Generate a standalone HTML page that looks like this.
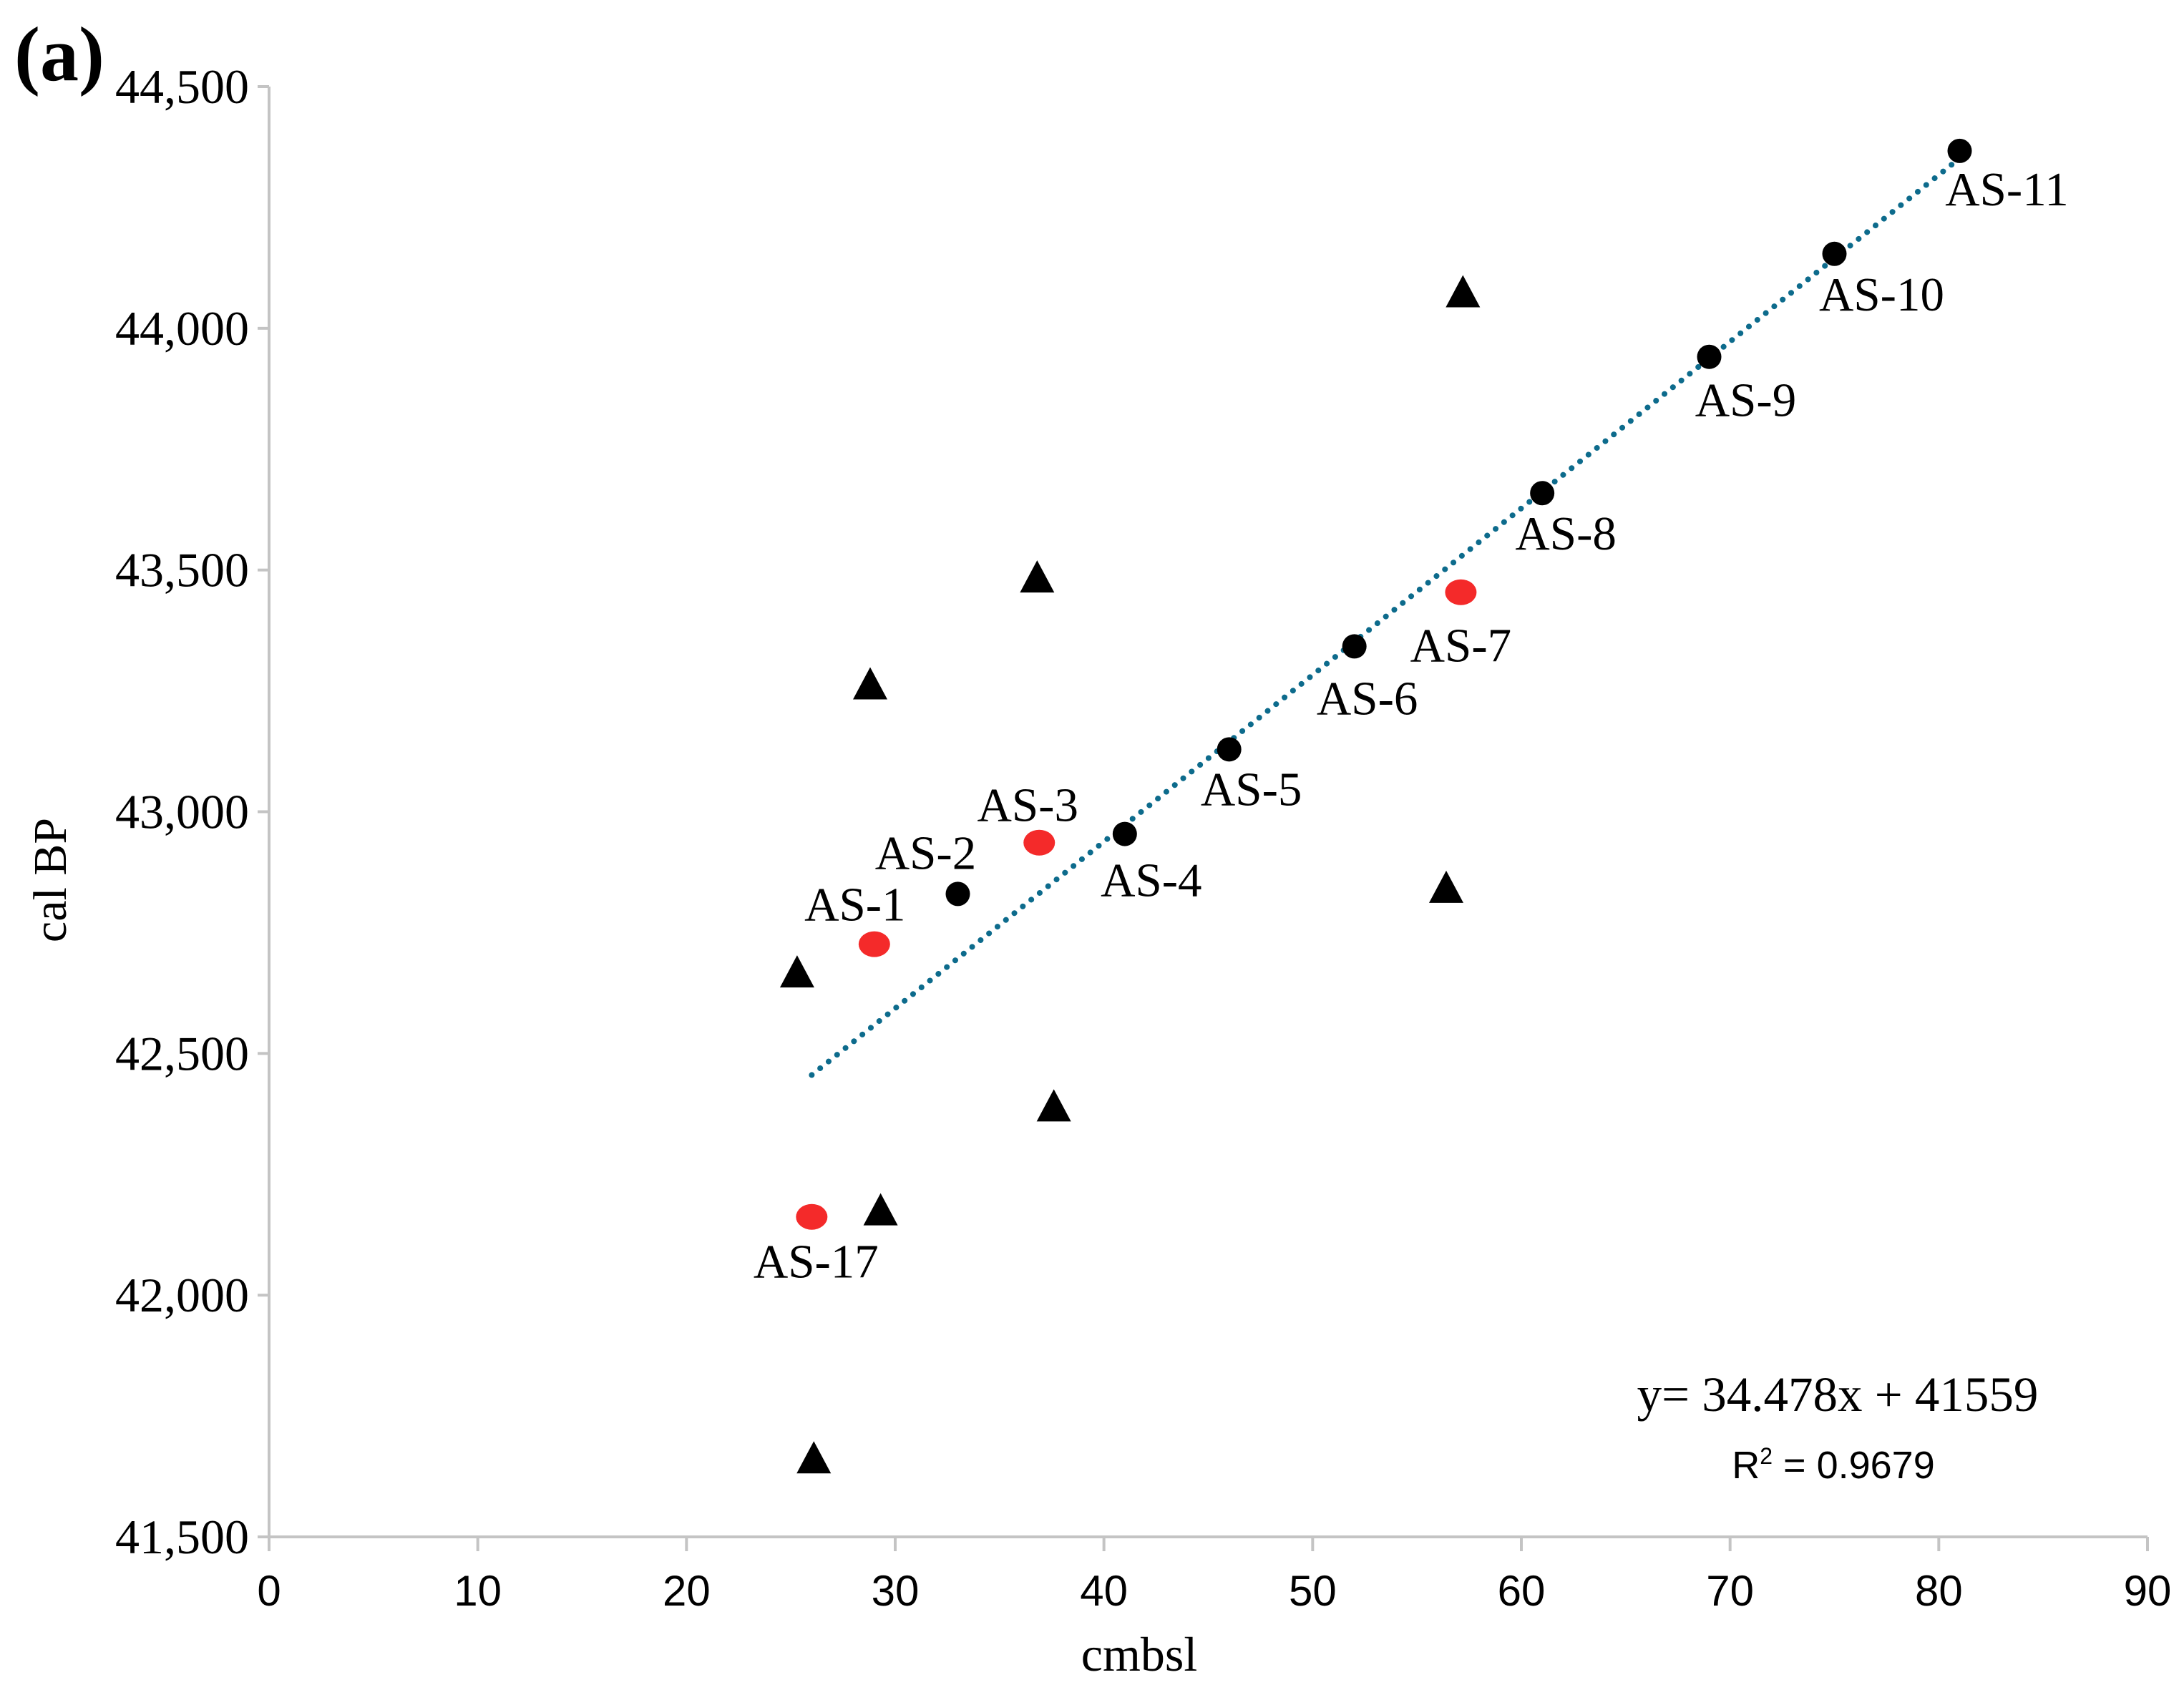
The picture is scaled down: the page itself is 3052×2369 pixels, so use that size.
<!DOCTYPE html>
<html><head><meta charset="utf-8"><style>
html,body{margin:0;padding:0;background:#fff;}
svg{display:block;}
</style></head><body>
<svg id="chart" width="3052" height="2369" viewBox="0 0 3052 2369" xmlns="http://www.w3.org/2000/svg">
<text x="20" y="112" font-family="Liberation Serif, serif" font-weight="bold" font-size="108">(a)</text>
<g id="axes"></g>
<g id="trend"></g>
<g id="marks"></g>
<text transform="translate(92,1230) rotate(-90)" text-anchor="middle" font-family="Liberation Serif, serif" font-size="66">cal BP</text>
<text x="1592" y="2335" text-anchor="middle" font-family="Liberation Serif, serif" font-size="68">cmbsl</text>
<text x="2568" y="1972" text-anchor="middle" font-family="Liberation Serif, serif" font-size="69">y= 34.478x + 41559</text>
<text x="2562" y="2066" text-anchor="middle" font-family="Liberation Sans Narrow, Liberation Sans, sans-serif" font-size="54">R<tspan dy="-20" font-size="32">2</tspan><tspan dy="20"> = 0.9679</tspan></text>
</svg>
<script>
const xTicks = [0,10,20,30,40,50,60,70,80,90];
const yTicks = [41500,42000,42500,43000,43500,44000,44500];
const yTickLabels = ["41,500","42,000","42,500","43,000","43,500","44,000","44,500"];
const blackNames = ["AS-2","AS-4","AS-5","AS-6","AS-8","AS-9","AS-10","AS-11"];
const blackX = [33,41,46,52,61,69,75,81];
const blackY = [42830,42954,43129,43342,43659,43941,44154,44367];
const redNames = ["AS-1","AS-3","AS-7","AS-17"];
const redX = [29,36.9,57.1,26];
const redY = [42726,42936,43454,42162];
const triX = [57.2,36.8,28.8,25.3,56.4,37.6,29.3,26.1];
const triY = [44073,43483,43262,42666,42841,42389,42174,41661];
const trendSlope = 34.478, trendIntercept = 41559, trendX = [26,81];

const X0=376, X1=3001, Y0=2148, Y1=121;
const sx = v => X0 + (v-0)/(90-0)*(X1-X0);
const sy = v => Y0 - (v-41500)/(44500-41500)*(Y0-Y1);
const NS="http://www.w3.org/2000/svg";
function mk(tag, attrs, parent){const e=document.createElementNS(NS,tag);for(const k in attrs)e.setAttribute(k,attrs[k]);parent.appendChild(e);return e;}
const axes=document.getElementById('axes'), marks=document.getElementById('marks'), trend=document.getElementById('trend');

let yl=mk('line',{x1:X0,y1:Y1,x2:X0,y2:Y0,stroke:'#c4c4c4','stroke-width':4},axes);


let xl=mk('line',{x1:X0-16,y1:Y0,x2:X1,y2:Y0,stroke:'#c4c4c4','stroke-width':4},axes);


yTicks.forEach((v,i)=>{
  const t=mk('line',{x1:X0-16,y1:sy(v),x2:X0,y2:sy(v),stroke:'#c4c4c4','stroke-width':4},axes);
  
  
  const l=mk('text',{x:348,y:sy(v)+23,'text-anchor':'end','font-family':'Liberation Serif, serif','font-size':68},axes);
  l.textContent=yTickLabels[i];
  
  
});
xTicks.forEach(v=>{
  const t=mk('line',{x1:sx(v),y1:Y0,x2:sx(v),y2:Y0+20,stroke:'#c4c4c4','stroke-width':4},axes);
  
  
  const l=mk('text',{x:sx(v),y:2244,'text-anchor':'middle','font-family':'Liberation Sans Narrow, Liberation Sans, sans-serif','font-size':60},axes);
  l.textContent=String(v);
  
  
});

const tl=mk('line',{x1:sx(trendX[0]),y1:sy(trendSlope*trendX[0]+trendIntercept),x2:sx(trendX[1]),y2:sy(trendSlope*trendX[1]+trendIntercept),stroke:'#0d6b8c','stroke-width':8,'stroke-linecap':'round','stroke-dasharray':'0.1 15'},trend);



const labelOff = {"AS-1":[-27,-56],"AS-2":[-45,-58],"AS-3":[-16,-53],"AS-4":[37,64],"AS-5":[31,55],"AS-6":[18,72],"AS-7":[0,74],"AS-8":[33,56],"AS-9":[51,60],"AS-10":[66,56],"AS-11":[66,53],"AS-17":[6,62]};
function label(name,x,y){
  const o=labelOff[name];
  const t=mk('text',{x:sx(x)+o[0],y:sy(y)+o[1]+23,'text-anchor':'middle','font-family':'Liberation Serif, serif','font-size':67},marks);
  t.textContent=name;
  
  
}
triX.forEach((x,i)=>{
  const cx=sx(x), cy=sy(triY[i]);
  const p=mk('polygon',{points:`${cx},${cy-25} ${cx-24},${cy+20} ${cx+24},${cy+20}`,fill:'#000'},marks);
  
  
});
blackX.forEach((x,i)=>{
  const c=mk('circle',{cx:sx(x),cy:sy(blackY[i]),r:17,fill:'#000'},marks);
  
  
  label(blackNames[i],x,blackY[i]);
});
redX.forEach((x,i)=>{
  const c=mk('ellipse',{cx:sx(x),cy:sy(redY[i]),rx:22,ry:18,fill:'#f42a2a'},marks);
  
  
  label(redNames[i],x,redY[i]);
});
</script>
</body></html>
